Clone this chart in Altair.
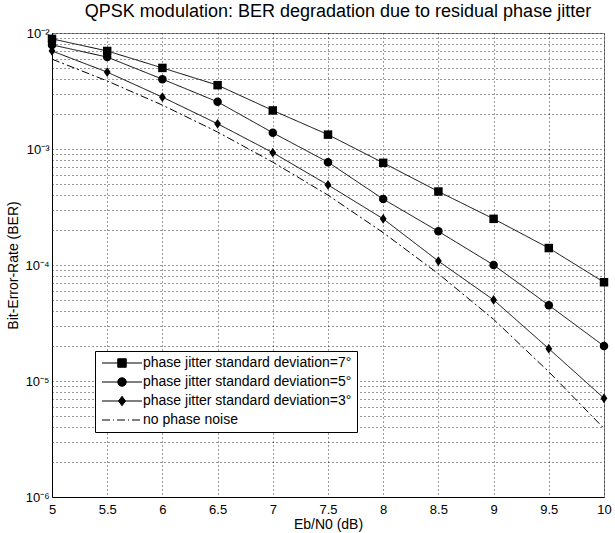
import altair as alt
import pandas as pd

# ---- data ----
ebn0 = [5, 5.5, 6, 6.5, 7, 7.5, 8, 8.5, 9, 9.5, 10]
ber_7deg = [8.9e-3, 7.0e-3, 5.0e-3, 3.55e-3, 2.15e-3, 1.33e-3, 7.6e-4, 4.3e-4, 2.5e-4, 1.4e-4, 7.1e-5]
ber_5deg = [7.9e-3, 6.2e-3, 4.0e-3, 2.55e-3, 1.38e-3, 7.7e-4, 3.7e-4, 1.95e-4, 1.0e-4, 4.5e-5, 2.0e-5]
ber_3deg = [7.0e-3, 4.6e-3, 2.8e-3, 1.65e-3, 9.3e-4, 4.9e-4, 2.5e-4, 1.08e-4, 5.0e-5, 1.9e-5, 7.1e-6]
ber_none = [5.95e-3, 3.86e-3, 2.39e-3, 1.40e-3, 7.7e-4, 4.0e-4, 1.9e-4, 8.4e-5, 3.4e-5, 1.2e-5, 3.9e-6]

series_names = [
    "phase jitter standard deviation=7°",
    "phase jitter standard deviation=5°",
    "phase jitter standard deviation=3°",
    "no phase noise",
]
x_ticks = [5, 5.5, 6, 6.5, 7, 7.5, 8, 8.5, 9, 9.5, 10]
y_ticks = [k * 10.0 ** e for e in range(-6, -2) for k in range(1, 10)] + [1e-2]

rows = []
for name, vals in zip(series_names, [ber_7deg, ber_5deg, ber_3deg, ber_none]):
    for xv, yv in zip(ebn0, vals):
        rows.append({"ebn0": xv, "ber": yv, "series": name})
df = pd.DataFrame(rows)

FONT = "Liberation Sans"

# marker shapes in the plot
plot_shapes = [
    "M-1,-1H1V1H-1Z",
    "circle",
    "M0,-1.15L0.8,0L0,1.15L-0.8,0Z",
    "M0,0",
]
# legend symbols: a line with the marker in its middle
legend_paths = [
    "M-4,0L4,0M-0.85,-0.85L0.85,-0.85L0.85,0.85L-0.85,0.85Z",
    "M-4,0L4,0M0.85,0A0.85,0.85 0 1,1 -0.85,0A0.85,0.85 0 1,1 0.85,0Z",
    "M-4,0L4,0M0,-0.95L0.7,0L0,0.95L-0.7,0Z",
    "M-4,0L-2.4,0M-1.8,0L-1.6,0M-1,0L0.6,0M1.2,0L1.4,0M2,0L3.6,0",
]

y_label_expr = (
    "abs(log(datum.value)/LN10 - round(log(datum.value)/LN10)) > 0.001 ? '' : "
    "(round(log(datum.value)/LN10) == -2 ? '10⁻²' : "
    "round(log(datum.value)/LN10) == -3 ? '10⁻³' : "
    "round(log(datum.value)/LN10) == -4 ? '10⁻⁴' : "
    "round(log(datum.value)/LN10) == -5 ? '10⁻⁵' : '10⁻⁶')"
)

x_enc = alt.X(
    "ebn0:Q",
    scale=alt.Scale(domain=[5, 10], nice=False, zero=False),
    axis=alt.Axis(
        values=x_ticks, format="~g", title="Eb/N0 (dB)",
        grid=True, gridDash=[1, 3], gridColor="#000", gridOpacity=0.8,
        tickSize=0, labelFontSize=13, labelPadding=6, labelFont=FONT,
        labelColor="#000", titleFont=FONT, titleFontSize=14,
        titleFontWeight="normal", titleColor="#000", titlePadding=1,
        domainColor="#000", labelFlush=False,
    ),
)
y_enc = alt.Y(
    "ber:Q",
    scale=alt.Scale(type="log", domain=[1e-6, 1e-2], nice=False),
    axis=alt.Axis(
        values=y_ticks, labelExpr=y_label_expr, title="Bit-Error-Rate (BER)",
        grid=True, gridDash=[1, 3], gridColor="#000", gridOpacity=0.8,
        tickSize=0, labelFontSize=13, labelPadding=3, labelFont=FONT,
        labelColor="#000", titleFont=FONT, titleFontSize=14,
        titleFontWeight="normal", titleColor="#000", titlePadding=4,
        domainColor="#000", labelOverlap=False, labelFlush=False,
    ),
)

base = alt.Chart(df)

lines = base.mark_line(color="#000", strokeWidth=1).encode(
    x=x_enc,
    y=y_enc,
    strokeDash=alt.StrokeDash(
        "series:N",
        scale=alt.Scale(domain=series_names, range=[[1, 0], [1, 0], [1, 0], [8, 3, 2, 3]]),
        legend=None,
    ),
    order="ebn0:Q",
)

points = base.transform_filter(
    alt.datum.series != "no phase noise"
).mark_point(filled=True, color="#000", opacity=1, size=72).encode(
    x=x_enc,
    y=y_enc,
    shape=alt.Shape("series:N", scale=alt.Scale(domain=series_names, range=plot_shapes), legend=None),
)

legend_layer = base.mark_point(
    filled=False, fill="#000", stroke="#000", strokeWidth=1, opacity=0, size=100
).encode(
    x=x_enc,
    y=y_enc,
    shape=alt.Shape(
        "series:N",
        scale=alt.Scale(domain=series_names, range=legend_paths),
        legend=alt.Legend(
            title=None, orient="none", legendX=43, legendY=318,
            labelFont=FONT, labelFontSize=14, labelColor="#000",
            padding=5, strokeColor="#000", fillColor="#fff",
            symbolOffset=15, labelOffset=14, rowPadding=5,
            symbolSize=100, symbolOpacity=1, symbolStrokeWidth=1,
            labelLimit=400,
        ),
    ),
)

chart = (
    alt.layer(lines, points, legend_layer)
    .resolve_scale(shape="independent", strokeDash="independent")
    .properties(
        width=552,
        height=464,
        autosize=alt.AutoSizeParams(type="none"),
        padding={"left": 52, "top": 33, "right": 11, "bottom": 36},
        background="#ffffff",
        title=alt.Title(
            "QPSK modulation: BER degradation due to residual phase jitter",
            font=FONT, fontSize=18, fontWeight="normal", color="#000",
            dx=10, offset=6, frame="group",
        ),
    )
    .configure_view(stroke="#888", strokeWidth=1)
)

chart.save("out.html", embed_options={"renderer": "svg", "actions": False})
